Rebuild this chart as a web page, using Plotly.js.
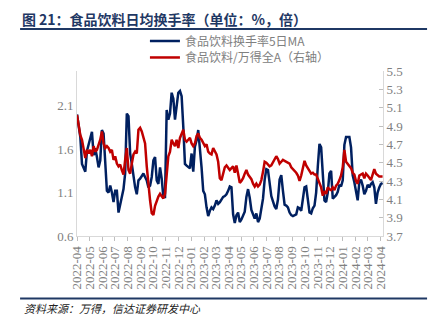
<!DOCTYPE html>
<html>
<head>
<meta charset="utf-8">
<script src="https://cdn.plot.ly/plotly-3.0.1.min.js"></script>
<style>html,body{margin:0;padding:0;background:#fff;}#chart{width:438px;height:329px;}</style>
</head>
<body>
<div id="chart"></div>
<script>
const dates = [
"2022-04-01","2022-04-05","2022-04-09","2022-04-13","2022-04-17","2022-04-21","2022-04-25","2022-04-29",
"2022-05-03","2022-05-07","2022-05-11","2022-05-15","2022-05-19","2022-05-23","2022-05-27","2022-05-31",
"2022-06-04","2022-06-08","2022-06-12","2022-06-16","2022-06-20","2022-06-24","2022-06-28",
"2022-07-02","2022-07-06","2022-07-10","2022-07-14","2022-07-18","2022-07-22","2022-07-26","2022-07-30",
"2022-08-03","2022-08-07","2022-08-11","2022-08-15","2022-08-19","2022-08-23","2022-08-27","2022-08-31",
"2022-09-04","2022-09-08","2022-09-12","2022-09-16","2022-09-20","2022-09-24","2022-09-28",
"2022-10-02","2022-10-06","2022-10-10","2022-10-14","2022-10-18","2022-10-22","2022-10-26","2022-10-30",
"2022-11-03","2022-11-07","2022-11-11","2022-11-15","2022-11-19","2022-11-23","2022-11-27",
"2022-12-01","2022-12-05","2022-12-09","2022-12-13","2022-12-17","2022-12-21","2022-12-25","2022-12-29",
"2023-01-02","2023-01-06","2023-01-10","2023-01-14","2023-01-18","2023-01-22","2023-01-26","2023-01-30",
"2023-02-03","2023-02-07","2023-02-11","2023-02-15","2023-02-19","2023-02-23","2023-02-27",
"2023-03-03","2023-03-07","2023-03-11","2023-03-15","2023-03-19","2023-03-23","2023-03-27","2023-03-31",
"2023-04-04","2023-04-08","2023-04-12","2023-04-16","2023-04-20","2023-04-24","2023-04-28",
"2023-05-02","2023-05-06","2023-05-10","2023-05-14","2023-05-18","2023-05-22","2023-05-26","2023-05-30",
"2023-06-03","2023-06-07","2023-06-11","2023-06-15","2023-06-19","2023-06-23","2023-06-27",
"2023-07-01","2023-07-05","2023-07-09","2023-07-13","2023-07-17","2023-07-21","2023-07-25","2023-07-29",
"2023-08-02","2023-08-06","2023-08-10","2023-08-14","2023-08-18","2023-08-22","2023-08-26","2023-08-30",
"2023-09-03","2023-09-07","2023-09-11","2023-09-15","2023-09-19","2023-09-23","2023-09-27",
"2023-10-01","2023-10-05","2023-10-09","2023-10-13","2023-10-17","2023-10-21","2023-10-25","2023-10-29",
"2023-11-02","2023-11-06","2023-11-10","2023-11-14","2023-11-18","2023-11-22","2023-11-26","2023-11-30",
"2023-12-04","2023-12-08","2023-12-12","2023-12-16","2023-12-20","2023-12-24","2023-12-28",
"2024-01-01","2024-01-05","2024-01-09","2024-01-13","2024-01-17","2024-01-21","2024-01-25","2024-01-29",
"2024-02-02","2024-02-06","2024-02-10","2024-02-14","2024-02-18","2024-02-22","2024-02-26",
"2024-03-01","2024-03-05","2024-03-09","2024-03-13","2024-03-17","2024-03-21","2024-03-25","2024-03-29",
"2024-04-02","2024-04-06"
];

// 食品饮料换手率5日MA (left axis, %)
const turnoverMA5 = [
2.00,1.88,1.74,1.43,1.39,1.34,1.58,1.65,1.70,1.80,
1.53,1.61,1.51,1.39,1.47,1.82,1.78,1.39,1.12,1.10,
1.18,1.10,0.99,1.12,1.12,0.87,0.97,1.08,1.14,1.32,
2.01,1.98,1.55,1.43,1.28,1.16,1.08,1.24,1.26,1.29,
1.32,1.28,1.24,1.16,1.18,1.28,1.47,1.51,1.24,1.20,
1.39,1.26,1.05,1.05,2.05,1.94,2.01,2.25,2.18,1.94,
2.12,2.25,2.27,2.21,1.86,1.43,1.41,1.39,1.38,1.55,
1.34,1.63,1.70,1.82,1.63,1.39,1.12,1.08,0.93,0.83,
0.89,0.93,0.91,0.95,1.01,0.97,
0.99,1.02,1.05,1.06,1.08,1.12,1.17,1.16,0.85,0.75,
0.84,0.87,0.76,0.79,0.83,0.88,1.05,1.14,1.04,0.90,
0.85,0.80,0.86,0.76,0.80,0.91,1.03,1.25,1.37,1.36,
1.18,1.06,1.00,0.94,0.91,1.02,1.25,1.30,1.12,0.96,
0.95,0.93,0.87,0.84,0.83,0.84,0.85,0.93,0.92,0.89,
1.02,1.16,1.17,1.04,0.87,0.86,0.92,0.95,1.10,1.40,
1.66,1.62,1.30,1.01,0.99,1.10,1.32,1.35,1.03,1.05,
1.07,1.11,1.19,1.17,1.24,1.65,1.74,1.74,1.74,1.62,
1.30,1.22,1.10,1.01,1.22,1.25,1.18,1.08,1.12,1.19,
1.16,1.20,1.22,1.16,0.97,1.10,1.16,1.20,1.21
];

// 食品饮料/万得全A (right axis, 倍)
const relativeRatio = [
5.02,4.88,4.80,4.75,4.66,4.55,4.64,4.60,4.64,4.57,
4.68,4.62,4.64,4.70,4.75,4.84,4.71,4.66,4.68,4.66,
4.62,4.64,4.53,4.57,4.49,4.46,4.48,4.42,4.37,4.53,
4.66,4.42,4.38,4.49,4.59,4.62,4.60,4.86,4.88,4.84,
4.77,4.71,4.46,4.24,4.09,3.95,3.93,4.03,4.09,4.13,
4.16,4.13,4.11,4.16,4.38,4.57,4.62,4.75,4.71,4.68,
4.75,4.66,4.77,4.82,4.86,4.75,4.73,4.75,4.77,4.71,
4.68,4.71,4.79,4.82,4.77,4.75,4.71,4.68,4.70,4.62,
4.60,4.59,4.66,4.62,4.59,4.51,
4.33,4.31,4.38,4.45,4.47,4.44,4.42,4.44,4.46,4.39,
4.47,4.38,4.28,4.30,4.33,4.38,4.42,4.37,4.35,4.32,
4.27,4.24,4.27,4.24,4.26,4.31,4.40,4.51,4.50,4.48,
4.46,4.47,4.50,4.53,4.57,4.54,4.49,4.51,4.53,4.52,
4.51,4.50,4.49,4.45,4.43,4.42,4.39,4.36,4.30,4.36,
4.45,4.52,4.47,4.44,4.42,4.38,4.39,4.37,4.37,4.32,
4.27,4.23,4.14,4.19,4.16,4.23,4.21,4.20,4.23,4.20,
4.25,4.27,4.31,4.36,4.45,4.64,4.51,4.49,4.46,4.44,
4.39,4.37,4.30,4.27,4.36,4.37,4.38,4.33,4.38,4.36,
4.33,4.31,4.37,4.43,4.38,4.36,4.35,4.35,4.35
];

const seriesNames = ["食品饮料换手率5日MA", "食品饮料/万得全A（右轴）"];
const titleText = "图 21：食品饮料日均换手率（单位：%，倍）";
const sourceText = "资料来源：万得，信达证券研发中心";

const gray = "#808080";
const navy = "#1F3864";
const serif = "Liberation Serif, Times New Roman, serif";
const cjk = "Noto Sans CJK SC, sans-serif";

const traces = [
  {x: dates, y: turnoverMA5, name: seriesNames[0], type: "scatter", mode: "lines",
   line: {color: "#002060", width: 2.5}, yaxis: "y", legend: "legend"},
  {x: dates, y: relativeRatio, name: seriesNames[1], type: "scatter", mode: "lines",
   line: {color: "#C00000", width: 2.5}, yaxis: "y2", legend: "legend2"}
];

const legendFont = {family: cjk, size: 12, color: gray};

const layout = {
  width: 438, height: 329,
  margin: {l: 77, r: 55, t: 71, b: 93},
  paper_bgcolor: "#fff", plot_bgcolor: "#fff",
  showlegend: true,
  title: {text: titleText, font: {family: cjk, size: 14, color: navy, weight: "bold"},
          xref: "container", yref: "container", x: 0.05, xanchor: "left", y: 0.94, yanchor: "middle"},
  legend: {x: 0.222, y: 1.182, xanchor: "left", yanchor: "middle", orientation: "v",
           font: legendFont, bgcolor: "rgba(0,0,0,0)", itemwidth: 30},
  legend2: {x: 0.222, y: 1.082, xanchor: "left", yanchor: "middle", orientation: "v",
           font: legendFont, bgcolor: "rgba(0,0,0,0)", itemwidth: 30},
  xaxis: {type: "date", range: ["2022-04-01", "2024-04-07"],
          tick0: "2022-04-01", dtick: "M1", tickformat: "%Y-%m", tickangle: -90,
          ticks: "outside", ticklen: 4, tickcolor: "#BFBFBF",
          showline: true, linecolor: "#D9D9D9", linewidth: 1, showgrid: false, zeroline: false,
          tickfont: {family: serif, size: 13, color: gray}},
  yaxis: {range: [0.6, 2.5], tick0: 0.6, dtick: 0.5, tickformat: ".1f",
          showline: true, linecolor: "#D9D9D9", linewidth: 1, showgrid: false, zeroline: false,
          ticks: "", tickfont: {family: serif, size: 13, color: gray}},
  yaxis2: {range: [3.7, 5.5], tick0: 3.7, dtick: 0.2, tickformat: ".1f", overlaying: "y", side: "right",
          showline: true, linecolor: "#D9D9D9", linewidth: 1, showgrid: false, zeroline: false,
          ticks: "inside", ticklen: 4, tickcolor: "#BFBFBF",
          tickfont: {family: serif, size: 13, color: gray}},
  shapes: [
    {type: "line", xref: "paper", yref: "paper", x0: -0.186, x1: 1.144, y0: 1.2545, y1: 1.2545,
     line: {color: navy, width: 2}},
    {type: "line", xref: "paper", yref: "paper", x0: -0.186, x1: 1.144, y0: -0.379, y1: -0.379,
     line: {color: navy, width: 2}}
  ],
  annotations: [
    {text: sourceText, xref: "paper", yref: "paper", x: -0.18, y: -0.436, xanchor: "left", yanchor: "middle",
     showarrow: false, font: {family: cjk, size: 11, color: "#222", style: "italic"}}
  ]
};

Plotly.newPlot("chart", traces, layout, {displayModeBar: false, staticPlot: true});
</script>
</body>
</html>
